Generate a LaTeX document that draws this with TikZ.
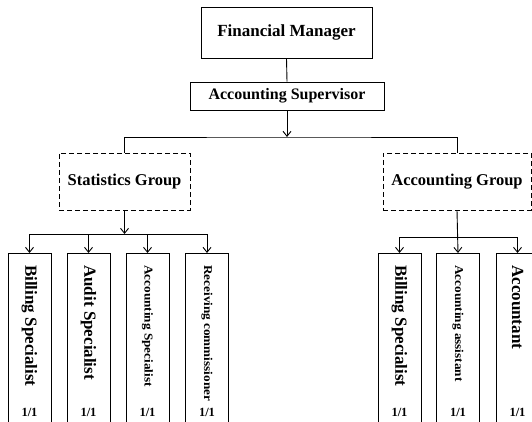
\documentclass[tikz,border=0pt]{standalone}
\usepackage{fontspec}
\setmainfont{Liberation Serif}
\usetikzlibrary{arrows.meta}

\begin{document}
\begin{tikzpicture}[x=1pt,y=-1pt,
  every node/.style={inner sep=0pt},
  boss/.style={draw, line width=0.9pt, minimum width=171pt, minimum height=51pt, font=\fontsize{17}{20}\selectfont\bfseries},
  super/.style={draw, line width=0.9pt, minimum width=194pt, minimum height=28pt, font=\fontsize{16}{19}\selectfont\bfseries},
  group/.style={draw, line width=0.9pt, dash pattern=on 5pt off 3pt, minimum height=57pt, font=\fontsize{16.5}{19}\selectfont\bfseries},
  leaf/.style={draw, line width=0.9pt, anchor=north, minimum width=43pt, minimum height=220pt},
  bigtxt/.style={rotate=-90, anchor=west, font=\fontsize{17}{20}\selectfont\bfseries},
  smalltxt/.style={rotate=-90, anchor=west, xscale=1.1, font=\fontsize{12}{14}\selectfont\bfseries},
  ratio/.style={font=\fontsize{12.5}{15}\selectfont\bfseries},
  link/.style={line width=0.9pt},
  arr/.style={line width=0.9pt, -{Straight Barb[length=5pt,width=8pt]}}
]
\clip (0,0) rectangle (532,422);

% top of the chart
\node[boss] (fm) at (286.5,32.5) {Financial Manager};
\node[super] (as) at (287,96) {Accounting Supervisor};
\node[group, minimum width=131pt] (sg) at (124.5,181.5) {Statistics Group};
\node[group, minimum width=148pt] (ag) at (457,181.5) {Accounting Group};

\coordinate (bus) at (287,137);
\draw[link] (fm.south) -- (as.north);
\draw[arr] (as.south) -- (bus);
\draw[link] (sg.north) |- (bus) -| (ag.north);

% statistics group
\node[leaf] (s1) at (29.5,253) {};
\node[leaf] (s2) at (88.5,253) {};
\node[leaf] (s3) at (147.5,253) {};
\node[leaf] (s4) at (207,253) {};
\node[bigtxt] (s1t) at ([yshift=-12pt]s1.north) {Billing Specialist};
\node[bigtxt] (s2t) at ([yshift=-12pt]s2.north) {Audit Specialist};
\node[smalltxt] (s3t) at ([yshift=-12pt]s3.north) {Accounting Specialist};
\node[smalltxt] (s4t) at ([yshift=-12pt]s4.north) {Receiving commissioner};
\foreach \n in {s1,s2,s3,s4}
  \node[ratio] (\n r) at ([yshift=-159pt]\n.north) {1/1};

\coordinate (sbus) at (sg.south |- 0,234);
\draw[arr] (sg.south) -- (sbus);
\draw[link] (s1.north |- sbus) -- (s4.north |- sbus);
\foreach \n in {s1,s2,s3,s4}
  \draw[arr] (\n.north |- sbus) -- (\n.north);

% accounting group
\node[leaf] (a1) at (399.5,253) {};
\node[leaf] (a2) at (458,253) {};
\node[leaf] (a3) at (517.5,253) {};
\node[bigtxt] (a1t) at ([yshift=-12pt]a1.north) {Billing Specialist};
\node[smalltxt] (a2t) at ([yshift=-12pt]a2.north) {Accounting assistant};
\node[bigtxt] (a3t) at ([yshift=-12pt]a3.north) {Accountant};
\foreach \n in {a1,a2,a3}
  \node[ratio] (\n r) at ([yshift=-159pt]\n.north) {1/1};

\coordinate (abus) at (ag.south |- 0,237);
\draw[link] (a1.north |- abus) -- (a3.north |- abus);
\draw[arr] (ag.south) -- (a2.north);
\draw[arr] (a1.north |- abus) -- (a1.north);
\draw[arr] (a3.north |- abus) -- (a3.north);
\end{tikzpicture}
\end{document}
